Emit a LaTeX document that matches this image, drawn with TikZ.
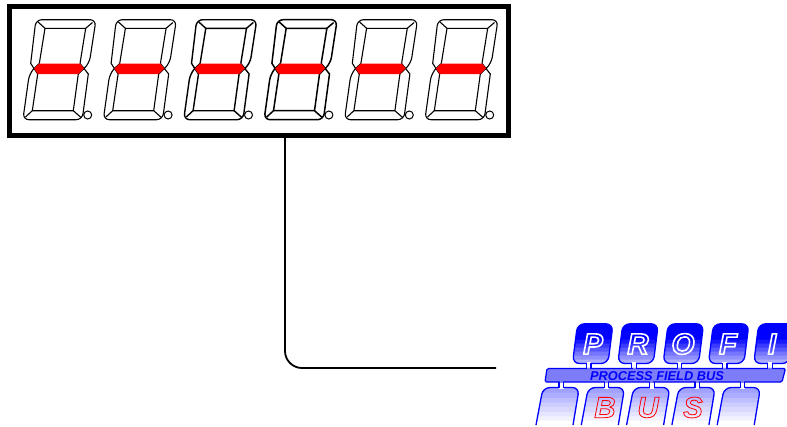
\documentclass[tikz,border=0pt]{standalone}
\usepackage{fontspec}
\setmainfont{Liberation Sans}
\usetikzlibrary{calc}
\definecolor{logoblue}{RGB}{0,0,255}
\definecolor{barfill}{RGB}{125,125,250}
\definecolor{segred}{RGB}{255,0,0}
\pgfdeclareverticalshading{upperkey}{100bp}{rgb(0bp)=(.68,.68,1); rgb(30bp)=(.68,.68,1); rgb(30.1bp)=(.56,.56,1); rgb(35bp)=(.56,.56,1); rgb(35.1bp)=(.46,.46,1); rgb(40bp)=(.46,.46,1); rgb(40.1bp)=(.34,.34,1); rgb(45bp)=(.34,.34,1); rgb(45.1bp)=(.22,.22,1); rgb(50bp)=(.22,.22,1); rgb(50.1bp)=(.1,.1,1); rgb(56bp)=(.1,.1,1); rgb(56.1bp)=(0,0,1); rgb(100bp)=(0,0,1)}
\pgfdeclareverticalshading{lowerkey}{100bp}{rgb(0bp)=(1,1,1); rgb(31bp)=(1,1,1); rgb(31.1bp)=(.95,.95,1); rgb(37bp)=(.95,.95,1); rgb(37.1bp)=(.9,.9,1); rgb(43bp)=(.9,.9,1); rgb(43.1bp)=(.85,.85,1); rgb(50bp)=(.85,.85,1); rgb(50.1bp)=(.8,.8,1); rgb(56bp)=(.8,.8,1); rgb(56.1bp)=(.74,.74,1); rgb(62bp)=(.74,.74,1); rgb(62.1bp)=(.68,.68,1); rgb(69bp)=(.68,.68,1); rgb(69.1bp)=(.63,.63,1); rgb(100bp)=(.63,.63,1)}
\newcommand\outlinedtext[3]{\special{pdf:code 1 Tr #1 w #2 RG}#3\special{pdf:code 0 Tr 1 w}}
\tikzset{
  x=1pt,y=-1pt,
  segline/.style={draw=black,line join=round},
  upkey/.style={draw=logoblue,line width=1.3pt,shading=upperkey,rounded corners=7pt},
  lowkey/.style={draw=logoblue,line width=1.3pt,shading=lowerkey,rounded corners=7pt},
  stemfill/.style={fill=white,draw=none},
  stemline/.style={draw=logoblue,line width=1.2pt},
  bigletter/.style={font=\fontsize{29.5}{30}\selectfont\bfseries\itshape,inner sep=0pt},
  bustext/.style={font=\fontsize{12.8}{13}\selectfont\bfseries\itshape,text=logoblue,inner sep=0pt},
}
\begin{document}
\begin{tikzpicture}
\useasboundingbox (0,0) rectangle (787,426);
% display digits
\foreach \k/\lw in {0/1.1,1/1.1,2/1.4,3/1.5,4/1.1,5/1.1}{
\begin{scope}[shift={(80.4*\k,0)},line width=\lw pt]
  \draw[segline] (34,68.5)--(30.7,63.3)[rounded corners=6pt]--(35.9,19.7)--(96,19.7)--(89.3,63.3)[sharp corners]--(84,68.5)--(88.3,74)[rounded corners=6pt]--(82.2,119.7)--(22.9,119.7)--(29.3,74)[sharp corners]--cycle;
  \draw[segline] (39.3,63.5)--(45,28.3)--(85.7,28.3)--(80,63.5);
  \draw[segline] (37.7,74)--(32.3,110.7)--(73.3,110.7)--(78.3,74);
  \draw[segline] (38,22)--(45,28.3) (92.5,22.5)--(85.7,28.3) (25.5,117)--(32.3,110.7) (81,117.5)--(73.3,110.7);
  \draw[segline] (34,68.5)--(39.3,63.5) (34,68.5)--(37.7,74) (84,68.5)--(80,63.5) (84,68.5)--(78.3,74);
  \fill[segred] (34,68.5)--(39.3,63.5)--(80,63.5)--(84,68.5)--(78.3,74)--(37.7,74)--cycle;
  \draw[line width=1pt] (87.7,115) circle (4);
\end{scope}
}
% display frame
\node[draw=black,line width=4.6pt,minimum width=499.4pt,minimum height=129pt,inner sep=0pt,outer sep=0pt] (display) at (259,71) {};
% connector
\coordinate (tap) at (285,135.5);
\coordinate (busend) at (496,368);
\draw[line width=1.8pt,rounded corners=17pt] (tap) |- (busend);
% logo: upper keys
\foreach \k in {0,...,4}{
\begin{scope}[shift={(45.3*\k,0)}]
  \path[upkey] (572.5,363.5)--(577.5,323.8)--(613,323.8)--(608,363.5)--cycle;
  \fill[stemfill] (586.5,362)rectangle(591,369.5);
  \draw[stemline] (586.5,362.5)--(586.5,369) (591,362.5)--(591,369);
\end{scope}
}
% logo: lower keys
\foreach \k in {0,...,4}{
\begin{scope}[shift={(45.3*\k,0)}]
  \path[lowkey] (536,425)--(543,387.5)--(579.3,387.5)--(573,425);
  \fill[stemfill] (559,381)rectangle(563.5,389);
  \draw[stemline] (559,381.5)--(559,388) (563.5,381.5)--(563.5,388);
\end{scope}
}
% logo: bar
\path[draw=logoblue,fill=barfill,line width=1.2pt,rounded corners=1.5pt] (547,368.5)--(785.5,368.5)--(782,382)--(545,382)--cycle;
\foreach \k in {0,...,4}{
  \fill[barfill] (587.2+45.3*\k,368)rectangle(590.3+45.3*\k,369.2);
  \fill[barfill] (559.7+45.3*\k,381.3)rectangle(562.8+45.3*\k,382.5);
}
\node[bustext] (bustxt) at (657,375.7) {PROCESS FIELD BUS};
% logo letters
\node[bigletter,text=logoblue] (lP) at (593,344) {\outlinedtext{1.6}{1 1 1}{P}};
\node[bigletter,text=logoblue] (lR) at (638,344) {\outlinedtext{1.6}{1 1 1}{R}};
\node[bigletter,text=logoblue] (lO) at (683,344) {\outlinedtext{1.6}{1 1 1}{O}};
\node[bigletter,text=logoblue] (lF) at (728,344) {\outlinedtext{1.6}{1 1 1}{F}};
\node[bigletter,text=logoblue] (lI) at (772,344) {\outlinedtext{1.6}{1 1 1}{I}};
\node[bigletter] (lB) at (605,407.5) {\outlinedtext{0.8}{1 0 0}{B}};
\node[bigletter] (lU) at (648,407.5) {\outlinedtext{0.8}{1 0 0}{U}};
\node[bigletter] (lS) at (693,407.5) {\outlinedtext{0.8}{1 0 0}{S}};
\end{tikzpicture}
\end{document}
